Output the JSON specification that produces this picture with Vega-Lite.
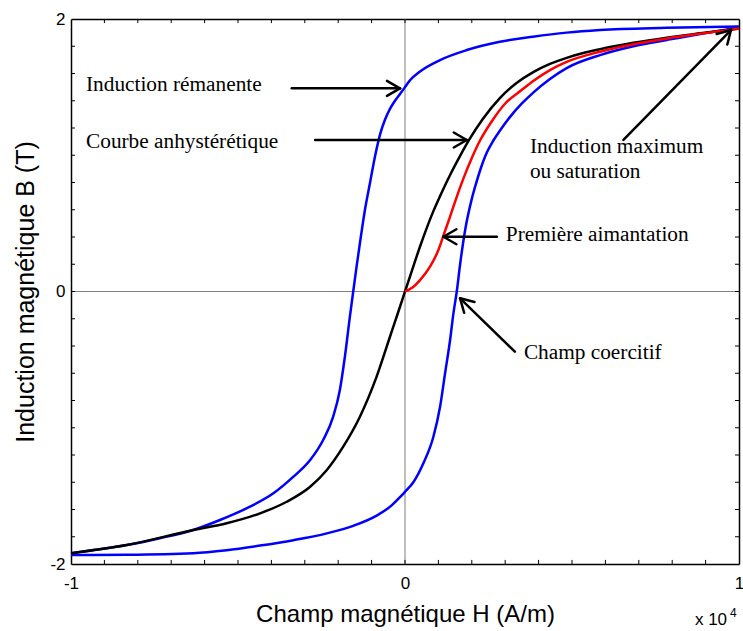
{
  "$schema": "https://vega.github.io/schema/vega-lite/v6.json",
  "width": 668,
  "height": 545,
  "autosize": {"type": "none"},
  "padding": {"left": 71, "top": 19, "right": 4, "bottom": 67},
  "background": "white",
  "config": {"view": {"stroke": null}},
  "datasets": {
    "zero": [
      {"H": 0, "B": -2, "H2": 0, "B2": 2},
      {"H": -1, "B": 0, "H2": 1, "B2": 0}
    ],
    "xt": [
      {"H": -0.9}, {"H": -0.8}, {"H": -0.7}, {"H": -0.6}, {"H": -0.5}, {"H": -0.4}, {"H": -0.3}, {"H": -0.2}, {"H": -0.1},
      {"H": 0}, {"H": 0.1}, {"H": 0.2}, {"H": 0.3}, {"H": 0.4}, {"H": 0.5}, {"H": 0.6}, {"H": 0.7}, {"H": 0.8}, {"H": 0.9}
    ],
    "yt": [
      {"B": -1.8}, {"B": -1.6}, {"B": -1.4}, {"B": -1.2}, {"B": -1}, {"B": -0.8}, {"B": -0.6}, {"B": -0.4}, {"B": -0.2},
      {"B": 0}, {"B": 0.2}, {"B": 0.4}, {"B": 0.6}, {"B": 0.8}, {"B": 1}, {"B": 1.2}, {"B": 1.4}, {"B": 1.6}, {"B": 1.8}
    ],
    "blue": [
      {"b": "haut", "H": -1, "B": -1.921}, {"b": "haut", "H": -0.933, "B": -1.897}, {"b": "haut", "H": -0.833, "B": -1.861},
      {"b": "haut", "H": -0.734, "B": -1.811}, {"b": "haut", "H": -0.634, "B": -1.75}, {"b": "haut", "H": -0.554, "B": -1.677},
      {"b": "haut", "H": -0.464, "B": -1.579}, {"b": "haut", "H": -0.394, "B": -1.481}, {"b": "haut", "H": -0.334, "B": -1.359},
      {"b": "haut", "H": -0.284, "B": -1.237}, {"b": "haut", "H": -0.245, "B": -1.09}, {"b": "haut", "H": -0.215, "B": -0.919},
      {"b": "haut", "H": -0.195, "B": -0.723}, {"b": "haut", "H": -0.18, "B": -0.479}, {"b": "haut", "H": -0.165, "B": -0.185},
      {"b": "haut", "H": -0.155, "B": 0}, {"b": "haut", "H": -0.145, "B": 0.182}, {"b": "haut", "H": -0.135, "B": 0.354},
      {"b": "haut", "H": -0.12, "B": 0.598}, {"b": "haut", "H": -0.105, "B": 0.794}, {"b": "haut", "H": -0.09, "B": 0.989},
      {"b": "haut", "H": -0.075, "B": 1.15}, {"b": "haut", "H": -0.06, "B": 1.26}, {"b": "haut", "H": -0.045, "B": 1.34},
      {"b": "haut", "H": -0.03, "B": 1.4}, {"b": "haut", "H": -0.015, "B": 1.45}, {"b": "haut", "H": 0, "B": 1.5},
      {"b": "haut", "H": 0.015, "B": 1.55}, {"b": "haut", "H": 0.045, "B": 1.615}, {"b": "haut", "H": 0.105, "B": 1.699},
      {"b": "haut", "H": 0.185, "B": 1.772}, {"b": "haut", "H": 0.284, "B": 1.833}, {"b": "haut", "H": 0.383, "B": 1.87},
      {"b": "haut", "H": 0.484, "B": 1.9}, {"b": "haut", "H": 0.584, "B": 1.919}, {"b": "haut", "H": 0.784, "B": 1.935},
      {"b": "haut", "H": 1, "B": 1.945},
      {"b": "bas", "H": -1, "B": -1.934}, {"b": "bas", "H": -0.833, "B": -1.932}, {"b": "bas", "H": -0.634, "B": -1.921},
      {"b": "bas", "H": -0.534, "B": -1.899}, {"b": "bas", "H": -0.434, "B": -1.865}, {"b": "bas", "H": -0.334, "B": -1.825},
      {"b": "bas", "H": -0.234, "B": -1.775}, {"b": "bas", "H": -0.155, "B": -1.72}, {"b": "bas", "H": -0.085, "B": -1.645},
      {"b": "bas", "H": -0.04, "B": -1.57}, {"b": "bas", "H": -0.015, "B": -1.51}, {"b": "bas", "H": 0, "B": -1.47},
      {"b": "bas", "H": 0.025, "B": -1.4}, {"b": "bas", "H": 0.055, "B": -1.261}, {"b": "bas", "H": 0.085, "B": -1.066},
      {"b": "bas", "H": 0.105, "B": -0.846}, {"b": "bas", "H": 0.12, "B": -0.6}, {"b": "bas", "H": 0.135, "B": -0.356},
      {"b": "bas", "H": 0.145, "B": -0.16}, {"b": "bas", "H": 0.155, "B": 0}, {"b": "bas", "H": 0.165, "B": 0.2},
      {"b": "bas", "H": 0.18, "B": 0.45}, {"b": "bas", "H": 0.2, "B": 0.68}, {"b": "bas", "H": 0.21, "B": 0.77},
      {"b": "bas", "H": 0.225, "B": 0.89}, {"b": "bas", "H": 0.245, "B": 1.02}, {"b": "bas", "H": 0.265, "B": 1.11},
      {"b": "bas", "H": 0.284, "B": 1.18}, {"b": "bas", "H": 0.314, "B": 1.28}, {"b": "bas", "H": 0.35, "B": 1.38},
      {"b": "bas", "H": 0.384, "B": 1.46}, {"b": "bas", "H": 0.434, "B": 1.56}, {"b": "bas", "H": 0.484, "B": 1.64},
      {"b": "bas", "H": 0.584, "B": 1.735}, {"b": "bas", "H": 0.684, "B": 1.8}, {"b": "bas", "H": 0.784, "B": 1.846},
      {"b": "bas", "H": 0.884, "B": 1.89}, {"b": "bas", "H": 1, "B": 1.935}
    ],
    "black": [
      {"H": -1, "B": -1.921}, {"H": -0.833, "B": -1.861}, {"H": -0.634, "B": -1.75}, {"H": -0.534, "B": -1.701},
      {"H": -0.434, "B": -1.628}, {"H": -0.354, "B": -1.543}, {"H": -0.284, "B": -1.433}, {"H": -0.234, "B": -1.31},
      {"H": -0.185, "B": -1.139}, {"H": -0.135, "B": -0.919}, {"H": -0.085, "B": -0.625}, {"H": -0.045, "B": -0.332},
      {"H": -0.015, "B": -0.112}, {"H": 0, "B": 0}, {"H": 0.015, "B": 0.11}, {"H": 0.045, "B": 0.33},
      {"H": 0.085, "B": 0.59}, {"H": 0.105, "B": 0.7}, {"H": 0.135, "B": 0.855}, {"H": 0.165, "B": 0.995},
      {"H": 0.19, "B": 1.105}, {"H": 0.234, "B": 1.27}, {"H": 0.284, "B": 1.42}, {"H": 0.334, "B": 1.53},
      {"H": 0.384, "B": 1.61}, {"H": 0.434, "B": 1.67}, {"H": 0.484, "B": 1.715}, {"H": 0.534, "B": 1.75},
      {"H": 0.584, "B": 1.778}, {"H": 0.684, "B": 1.825}, {"H": 0.784, "B": 1.863}, {"H": 0.884, "B": 1.895},
      {"H": 1, "B": 1.93}
    ],
    "red": [
      {"H": 0, "B": 0}, {"H": 0.02, "B": 0.025}, {"H": 0.045, "B": 0.084}, {"H": 0.075, "B": 0.182},
      {"H": 0.1, "B": 0.305}, {"H": 0.115, "B": 0.41}, {"H": 0.135, "B": 0.55}, {"H": 0.15, "B": 0.66},
      {"H": 0.175, "B": 0.83}, {"H": 0.2, "B": 0.98}, {"H": 0.225, "B": 1.11}, {"H": 0.26, "B": 1.25},
      {"H": 0.3, "B": 1.38}, {"H": 0.35, "B": 1.48}, {"H": 0.384, "B": 1.545}, {"H": 0.434, "B": 1.625},
      {"H": 0.484, "B": 1.685}, {"H": 0.584, "B": 1.76}, {"H": 0.684, "B": 1.815}, {"H": 0.784, "B": 1.857},
      {"H": 0.884, "B": 1.892}, {"H": 1, "B": 1.93}
    ],
    "arrows": [
      {"H": -0.339, "B": 1.491, "H2": -0.015, "B2": 1.491},
      {"H": -0.015, "B": 1.491, "H2": -0.054, "B2": 1.546},
      {"H": -0.015, "B": 1.491, "H2": -0.054, "B2": 1.436},
      {"H": -0.269, "B": 1.112, "H2": 0.185, "B2": 1.112},
      {"H": 0.185, "B": 1.112, "H2": 0.146, "B2": 1.167},
      {"H": 0.185, "B": 1.112, "H2": 0.146, "B2": 1.057},
      {"H": 0.654, "B": 1.112, "H2": 0.976, "B2": 1.919},
      {"H": 0.976, "B": 1.919, "H2": 0.965, "B2": 1.813},
      {"H": 0.976, "B": 1.919, "H2": 0.933, "B2": 1.89},
      {"H": 0.275, "B": 0.402, "H2": 0.115, "B2": 0.402},
      {"H": 0.115, "B": 0.402, "H2": 0.154, "B2": 0.457},
      {"H": 0.115, "B": 0.402, "H2": 0.154, "B2": 0.347},
      {"H": 0.329, "B": -0.442, "H2": 0.165, "B2": -0.05},
      {"H": 0.165, "B": -0.05, "H2": 0.208, "B2": -0.077},
      {"H": 0.165, "B": -0.05, "H2": 0.177, "B2": -0.156}
    ],
    "labels": [
      {"H": -0.955, "B": 1.516, "t": "Induction rémanente"},
      {"H": -0.955, "B": 1.099, "t": "Courbe anhystérétique"},
      {"H": 0.374, "B": 1.063, "t": "Induction maximum"},
      {"H": 0.374, "B": 0.879, "t": "ou saturation"},
      {"H": 0.302, "B": 0.415, "t": "Première aimantation"},
      {"H": 0.356, "B": -0.449, "t": "Champ coercitif"}
    ],
    "exp": [
      {"H": 0.868, "B": -2.448, "t": "x 10", "s": 17},
      {"H": 0.973, "B": -2.389, "t": "4", "s": 12}
    ]
  },
  "resolve": {"axis": {"x": "independent", "y": "independent"}},
  "layer": [
    {
      "data": {"name": "zero"},
      "mark": {"type": "rule", "color": "#808080", "strokeWidth": 1},
      "encoding": {
        "x": {
          "field": "H", "type": "quantitative",
          "scale": {"domain": [-1, 1], "nice": false, "zero": false},
          "axis": {
            "orient": "bottom",
            "values": [-1, 0, 1],
            "labelExpr": "datum.value == -1 ? '-1' : (datum.value == 0 ? '0' : '1')",
            "labelOverlap": false, "labelFlush": false,
            "ticks": false,
            "domainColor": "black", "domainWidth": 1.5,
            "grid": false,
            "labelFont": "Liberation Sans", "labelFontSize": 17, "labelColor": "black", "labelPadding": 11,
            "title": "Champ magnétique H (A/m)",
            "titleFont": "Liberation Sans", "titleFontSize": 24, "titleFontWeight": "normal", "titleColor": "black",
            "titlePadding": 11
          }
        },
        "x2": {"field": "H2"},
        "y": {
          "field": "B", "type": "quantitative",
          "scale": {"domain": [-2, 2], "nice": false, "zero": false},
          "axis": {
            "orient": "left",
            "values": [-2, 0, 2],
            "labelExpr": "datum.value == -2 ? '-2' : (datum.value == 0 ? '0' : '2')",
            "labelOverlap": false, "labelFlush": false,
            "ticks": false,
            "domainColor": "black", "domainWidth": 1.5,
            "grid": false,
            "labelFont": "Liberation Sans", "labelFontSize": 17, "labelColor": "black", "labelPadding": 6,
            "title": "Induction magnétique B (T)",
            "titleFont": "Liberation Sans", "titleFontSize": 25, "titleFontWeight": "normal", "titleColor": "black",
            "titlePadding": 11
          }
        },
        "y2": {"field": "B2"}
      }
    },
    {
      "data": {"name": "blue"},
      "mark": {"type": "line", "color": "#0000FF", "strokeWidth": 2.5, "interpolate": "monotone"},
      "encoding": {
        "x": {
          "field": "H", "type": "quantitative",
          "scale": {"domain": [-1, 1], "nice": false, "zero": false},
          "axis": {
            "orient": "top", "labels": false, "ticks": false, "domainColor": "black", "domainWidth": 1.5,
            "grid": false, "title": null, "values": [-1, 1]
          }
        },
        "y": {
          "field": "B", "type": "quantitative",
          "scale": {"domain": [-2, 2], "nice": false, "zero": false},
          "axis": {
            "orient": "right", "labels": false, "ticks": false, "domainColor": "black", "domainWidth": 1.5,
            "grid": false, "title": null, "values": [-2, 2]
          }
        },
        "detail": {"field": "b", "type": "nominal"}
      }
    },
    {
      "data": {"name": "black"},
      "mark": {"type": "line", "color": "black", "strokeWidth": 2.5, "interpolate": "monotone"},
      "encoding": {
        "x": {"field": "H", "type": "quantitative", "axis": null},
        "y": {"field": "B", "type": "quantitative", "axis": null}
      }
    },
    {
      "data": {"name": "red"},
      "mark": {"type": "line", "color": "#FF0000", "strokeWidth": 2.5, "interpolate": "monotone"},
      "encoding": {
        "x": {"field": "H", "type": "quantitative", "axis": null},
        "y": {"field": "B", "type": "quantitative", "axis": null}
      }
    },
    {
      "data": {"name": "xt"},
      "mark": {"type": "rule", "color": "black", "strokeWidth": 1},
      "encoding": {
        "x": {"field": "H", "type": "quantitative", "axis": null},
        "y": {"datum": -2, "type": "quantitative", "axis": null},
        "y2": {"datum": -1.97}
      }
    },
    {
      "data": {"name": "xt"},
      "mark": {"type": "rule", "color": "black", "strokeWidth": 1},
      "encoding": {
        "x": {"field": "H", "type": "quantitative", "axis": null},
        "y": {"datum": 2, "type": "quantitative", "axis": null},
        "y2": {"datum": 1.97}
      }
    },
    {
      "data": {"name": "yt"},
      "mark": {"type": "rule", "color": "black", "strokeWidth": 1},
      "encoding": {
        "y": {"field": "B", "type": "quantitative", "axis": null},
        "x": {"datum": -1, "type": "quantitative", "axis": null},
        "x2": {"datum": -0.988}
      }
    },
    {
      "data": {"name": "yt"},
      "mark": {"type": "rule", "color": "black", "strokeWidth": 1},
      "encoding": {
        "y": {"field": "B", "type": "quantitative", "axis": null},
        "x": {"datum": 1, "type": "quantitative", "axis": null},
        "x2": {"datum": 0.988}
      }
    },
    {
      "data": {"name": "arrows"},
      "mark": {"type": "rule", "color": "black", "strokeWidth": 2.5, "strokeCap": "round"},
      "encoding": {
        "x": {"field": "H", "type": "quantitative", "axis": null},
        "y": {"field": "B", "type": "quantitative", "axis": null},
        "x2": {"field": "H2"},
        "y2": {"field": "B2"}
      }
    },
    {
      "data": {"name": "labels"},
      "mark": {"type": "text", "font": "Liberation Serif", "fontSize": 21.3, "color": "black", "align": "left", "baseline": "middle"},
      "encoding": {
        "x": {"field": "H", "type": "quantitative", "axis": null},
        "y": {"field": "B", "type": "quantitative", "axis": null},
        "text": {"field": "t"}
      }
    },
    {
      "data": {"name": "exp"},
      "mark": {"type": "text", "font": "Liberation Sans", "color": "black", "align": "left", "baseline": "alphabetic"},
      "encoding": {
        "x": {"field": "H", "type": "quantitative", "axis": null},
        "y": {"field": "B", "type": "quantitative", "axis": null},
        "text": {"field": "t"},
        "size": {"field": "s", "type": "quantitative", "scale": null}
      }
    }
  ]
}
